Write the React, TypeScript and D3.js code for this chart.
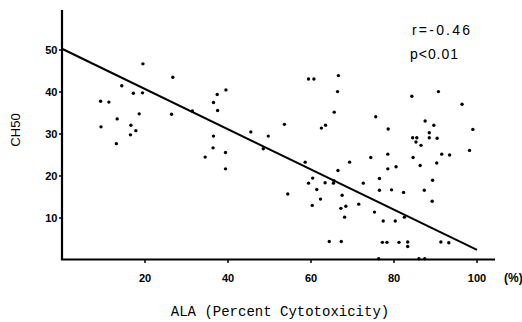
import React from "react";
import * as d3 from "d3";

const ala: number[] = [
  19.5, 26.7, 14.4, 17.2, 19.4, 9.3, 11.3, 18.6, 26.4, 31.4, 13.3, 16.6, 9.4, 17.8, 16.5, 13.1, 34.5,
  59.4, 60.7, 66.6, 66.4, 39.5, 37.4, 36.5, 37.5, 65.6, 53.6, 63.5, 62.5, 45.5, 49.7, 36.5, 36.4, 39.4,
  48.5, 39.4, 58.6, 69.3, 66.5, 60.4, 59.4, 63.4, 65.5, 65.4, 54.4, 61.4, 62.3, 67.5, 60.3, 68.4, 67.2,
  68.1, 64.4, 67.3, 90.7, 84.3, 96.4, 75.6, 87.5, 89.6, 78.6, 99.0, 88.5, 84.5, 85.5, 88.5, 90.4, 85.3,
  86.5, 98.2, 78.5, 91.5, 93.4, 74.4, 84.6, 86.3, 90.3, 78.5, 80.5, 76.5, 89.3, 72.6, 76.5, 79.4, 82.3,
  87.3, 89.2, 71.5, 75.3, 82.5, 77.4, 80.3, 77.2, 78.3, 81.2, 83.3, 83.3, 91.3, 93.2, 76.3, 86.0, 87.4,
];
const ch50: number[] = [
  46.7, 43.5, 41.5, 39.7, 39.8, 37.8, 37.6, 34.8, 34.7, 35.5, 33.6, 32.1, 31.7, 30.8, 29.8, 27.7, 24.5,
  43.1, 43.1, 43.9, 40.1, 40.5, 39.4, 37.5, 35.6, 35.2, 32.3, 32.1, 31.4, 30.5, 29.5, 29.5, 26.7, 25.6,
  26.5, 21.7, 23.3, 23.3, 21.3, 19.5, 18.3, 18.4, 18.9, 18.3, 15.7, 16.8, 14.5, 15.4, 13.0, 12.8, 12.3,
  10.2, 4.4, 4.4, 40.1, 39.0, 37.1, 34.1, 33.1, 32.1, 31.2, 31.1, 30.3, 29.1, 29.1, 29.1, 29.0, 28.1,
  27.3, 26.1, 25.2, 25.2, 25.0, 24.4, 24.4, 22.5, 23.1, 21.7, 22.2, 19.4, 19.0, 18.3, 16.6, 16.7, 16.1,
  16.6, 14.0, 13.3, 11.4, 10.2, 9.3, 9.3, 4.2, 4.2, 4.2, 4.3, 3.2, 4.3, 4.1, 0.3, 0.3, 0.3,
];
const xTicks: number[] = [20, 40, 60, 80, 100];
const yTicks: number[] = [10, 20, 30, 40, 50];
const fitX: number[] = [0, 100];
const fitY: number[] = [50.3, 2.4];
const statLines: string[] = ["r=-0.46", "p<0.01"];
const xTitle = "ALA (Percent Cytotoxicity)";
const yTitle = "CH50";
const unitLabel = "(%)";

export default function App() {
  const x = d3.scaleLinear().domain([0, 100]).range([62, 477]);
  const y = d3.scaleLinear().domain([0, 50]).range([260, 50]);
  const line = d3
    .line<number>()
    .x((_, i) => x(fitX[i]))
    .y((_, i) => y(fitY[i]));
  const tickFont = "'Liberation Sans', Arial, sans-serif";
  return (
    <div style={{ position: "fixed", left: 0, top: 0 }}>
      <svg width={522} height={322} style={{ display: "block", background: "#fff" }}>
        {/* axes */}
        <line x1={62} x2={62} y1={10} y2={260} stroke="#000" strokeWidth={2.2} />
        <line x1={61} x2={495} y1={259.5} y2={259.5} stroke="#000" strokeWidth={2.2} />
        {yTicks.map((t) => (
          <g key={"y" + t}>
            <line x1={59} x2={62} y1={y(t)} y2={y(t)} stroke="#000" strokeWidth={1.5} />
            <text
              x={57.5}
              y={y(t) + 4}
              textAnchor="end"
              fontFamily={tickFont}
              fontWeight="bold"
              fontSize={11}
              fill="#000"
            >
              {t}
            </text>
          </g>
        ))}
        {xTicks.map((t) => (
          <g key={"x" + t}>
            <line x1={x(t)} x2={x(t)} y1={259.5} y2={263} stroke="#000" strokeWidth={1.5} />
            <text
              x={x(t)}
              y={282}
              textAnchor="middle"
              fontFamily={tickFont}
              fontWeight="bold"
              fontSize={11}
              fill="#000"
            >
              {t}
            </text>
          </g>
        ))}
        <text x={504} y={282} fontFamily={tickFont} fontWeight="bold" fontSize={12} fill="#000">
          {unitLabel}
        </text>
        {/* regression line */}
        <path d={line(fitX) || ""} fill="none" stroke="#000" strokeWidth={2} />
        {/* points */}
        {ala.map((a, i) => (
          <circle key={i} cx={x(a)} cy={y(ch50[i])} r={1.7} fill="#000" />
        ))}
        {/* stats */}
        <text x={412} y={35} fontFamily={tickFont} fontSize={14} textLength={58} fill="#000">
          {statLines[0]}
        </text>
        <text x={410} y={59} fontFamily={tickFont} fontSize={14} textLength={48} fill="#000">
          {statLines[1]}
        </text>
        {/* titles */}
        <text
          x={280}
          y={316}
          textAnchor="middle"
          fontFamily="'Liberation Mono', 'DejaVu Sans Mono', monospace"
          fontSize={14}
          fill="#000"
        >
          {xTitle}
        </text>
        <text
          transform="translate(20,130) rotate(-90)"
          textAnchor="middle"
          fontFamily={tickFont}
          fontSize={13}
          fill="#000"
        >
          {yTitle}
        </text>
      </svg>
    </div>
  );
}
